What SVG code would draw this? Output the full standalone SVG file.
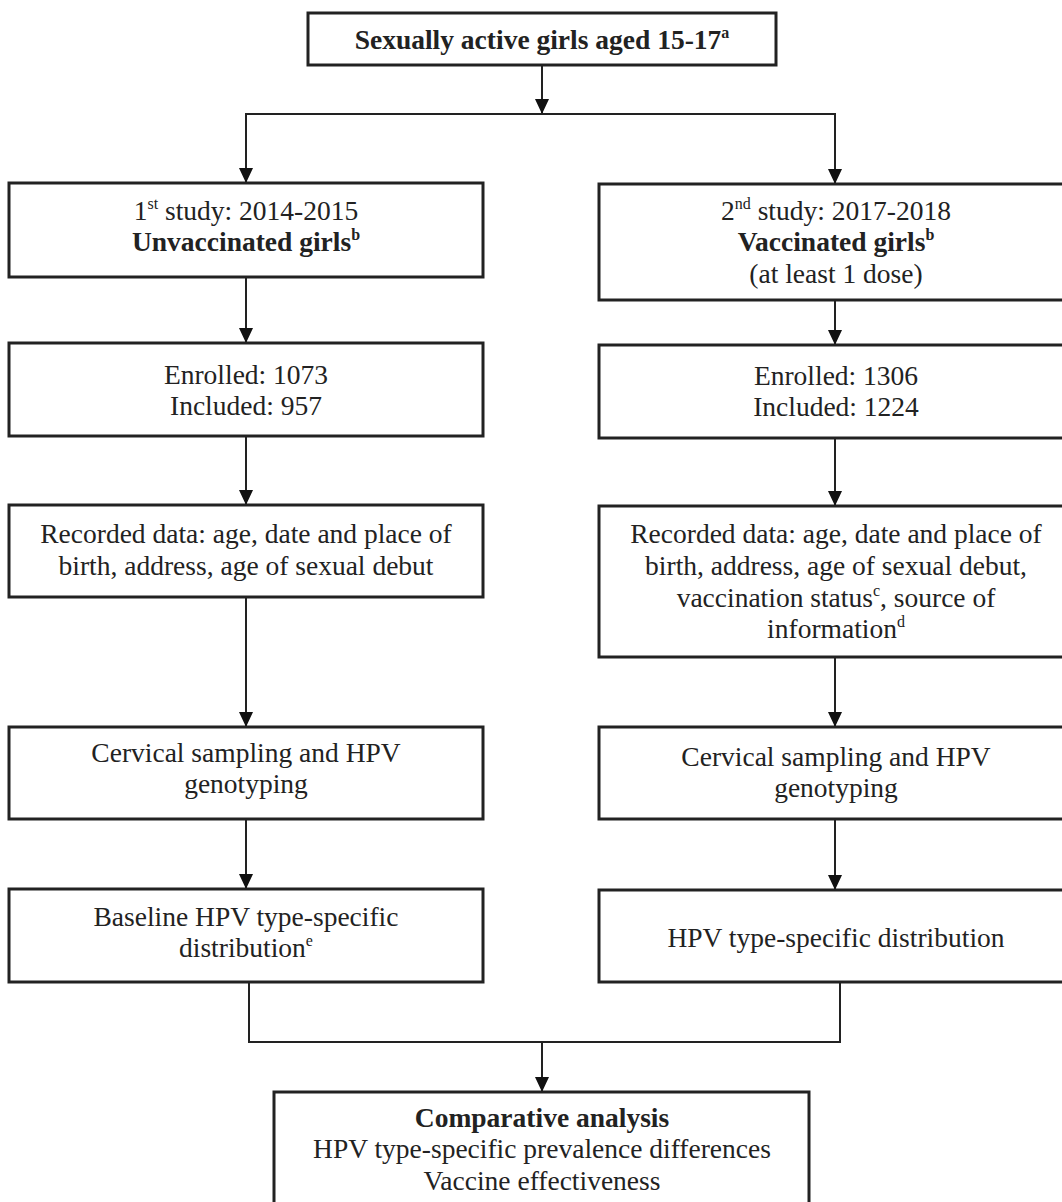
<svg xmlns="http://www.w3.org/2000/svg" width="1062" height="1202" viewBox="0 0 1062 1202">
<defs>
<marker id="ah" markerWidth="15" markerHeight="14" refX="15" refY="7" orient="auto" markerUnits="userSpaceOnUse" viewBox="0 0 15 14">
<path d="M0,0 L15,7 L0,14 Z" fill="#111"/>
</marker>
</defs>
<style>
.box{fill:#fff;stroke:#222;stroke-width:3}
.t{font-family:"Liberation Serif","Times New Roman",serif;font-size:27.5px;fill:#222;text-anchor:middle}
.b{font-weight:bold}
.sup{font-size:16px}
.c{fill:none;stroke:#222;stroke-width:2}
</style>
<rect width="1062" height="1202" fill="#fff"/>
<g id="connectors">
<line class="c" x1="542" y1="65" x2="542" y2="114" marker-end="url(#ah)"/>
<polyline class="c" points="246,114 835,114"/>
<line class="c" x1="246" y1="113" x2="246" y2="183" marker-end="url(#ah)"/>
<line class="c" x1="835" y1="113" x2="835" y2="184" marker-end="url(#ah)"/>
<line class="c" x1="246" y1="277" x2="246" y2="343" marker-end="url(#ah)"/>
<line class="c" x1="835" y1="300" x2="835" y2="345" marker-end="url(#ah)"/>
<line class="c" x1="246" y1="436" x2="246" y2="505" marker-end="url(#ah)"/>
<line class="c" x1="835" y1="438" x2="835" y2="506" marker-end="url(#ah)"/>
<line class="c" x1="246" y1="597" x2="246" y2="727" marker-end="url(#ah)"/>
<line class="c" x1="835" y1="657" x2="835" y2="727" marker-end="url(#ah)"/>
<line class="c" x1="246" y1="819" x2="246" y2="889" marker-end="url(#ah)"/>
<line class="c" x1="835" y1="819" x2="835" y2="890" marker-end="url(#ah)"/>
<polyline class="c" points="249,982 249,1042 840,1042 840,982"/>
<line class="c" x1="542" y1="1042" x2="542" y2="1092" marker-end="url(#ah)"/>
</g>
<g id="n0">
<rect class="box" x="308" y="13" width="468" height="52"/>
<text class="t b" x="542" y="49">Sexually active girls aged 15-17<tspan class="sup" dy="-11">a</tspan></text>
</g>
<g id="n1">
<rect class="box" x="9" y="183" width="474" height="94"/>
<text class="t" x="246" y="220">1<tspan class="sup" dy="-11">st</tspan><tspan dy="11"> study: 2014-2015</tspan></text>
<text class="t b" x="246" y="251">Unvaccinated girls<tspan class="sup" dy="-11">b</tspan></text>
</g>
<g id="n2">
<rect class="box" x="599" y="184" width="470" height="116"/>
<text class="t" x="836" y="220">2<tspan class="sup" dy="-11">nd</tspan><tspan dy="11"> study: 2017-2018</tspan></text>
<text class="t b" x="836" y="251">Vaccinated girls<tspan class="sup" dy="-11">b</tspan></text>
<text class="t" x="836" y="283">(at least 1 dose)</text>
</g>
<g id="n3">
<rect class="box" x="9" y="343" width="474" height="93"/>
<text class="t" x="246" y="384">Enrolled: 1073</text>
<text class="t" x="246" y="415">Included: 957</text>
</g>
<g id="n4">
<rect class="box" x="599" y="345" width="470" height="93"/>
<text class="t" x="836" y="385">Enrolled: 1306</text>
<text class="t" x="836" y="416">Included: 1224</text>
</g>
<g id="n5">
<rect class="box" x="9" y="505" width="474" height="92"/>
<text class="t" x="246" y="543">Recorded data: age, date and place of</text>
<text class="t" x="246" y="575">birth, address, age of sexual debut</text>
</g>
<g id="n6">
<rect class="box" x="599" y="506" width="470" height="151"/>
<text class="t" x="836" y="543">Recorded data: age, date and place of</text>
<text class="t" x="836" y="575">birth, address, age of sexual debut,</text>
<text class="t" x="836" y="607">vaccination status<tspan class="sup" dy="-11">c</tspan><tspan dy="11">, source of</tspan></text>
<text class="t" x="836" y="638">information<tspan class="sup" dy="-11">d</tspan></text>
</g>
<g id="n7">
<rect class="box" x="9" y="727" width="474" height="92"/>
<text class="t" x="246" y="762">Cervical sampling and HPV</text>
<text class="t" x="246" y="793">genotyping</text>
</g>
<g id="n8">
<rect class="box" x="599" y="727" width="470" height="92"/>
<text class="t" x="836" y="766">Cervical sampling and HPV</text>
<text class="t" x="836" y="797">genotyping</text>
</g>
<g id="n9">
<rect class="box" x="9" y="889" width="474" height="93"/>
<text class="t" x="246" y="926">Baseline HPV type-specific</text>
<text class="t" x="246" y="957">distribution<tspan class="sup" dy="-11">e</tspan></text>
</g>
<g id="n10">
<rect class="box" x="599" y="890" width="470" height="92"/>
<text class="t" x="836" y="947">HPV type-specific distribution</text>
</g>
<g id="n11">
<rect class="box" x="274" y="1092" width="535" height="130"/>
<text class="t b" x="542" y="1127">Comparative analysis</text>
<text class="t" x="542" y="1158">HPV type-specific prevalence differences</text>
<text class="t" x="542" y="1190">Vaccine effectiveness</text>
</g>
</svg>
